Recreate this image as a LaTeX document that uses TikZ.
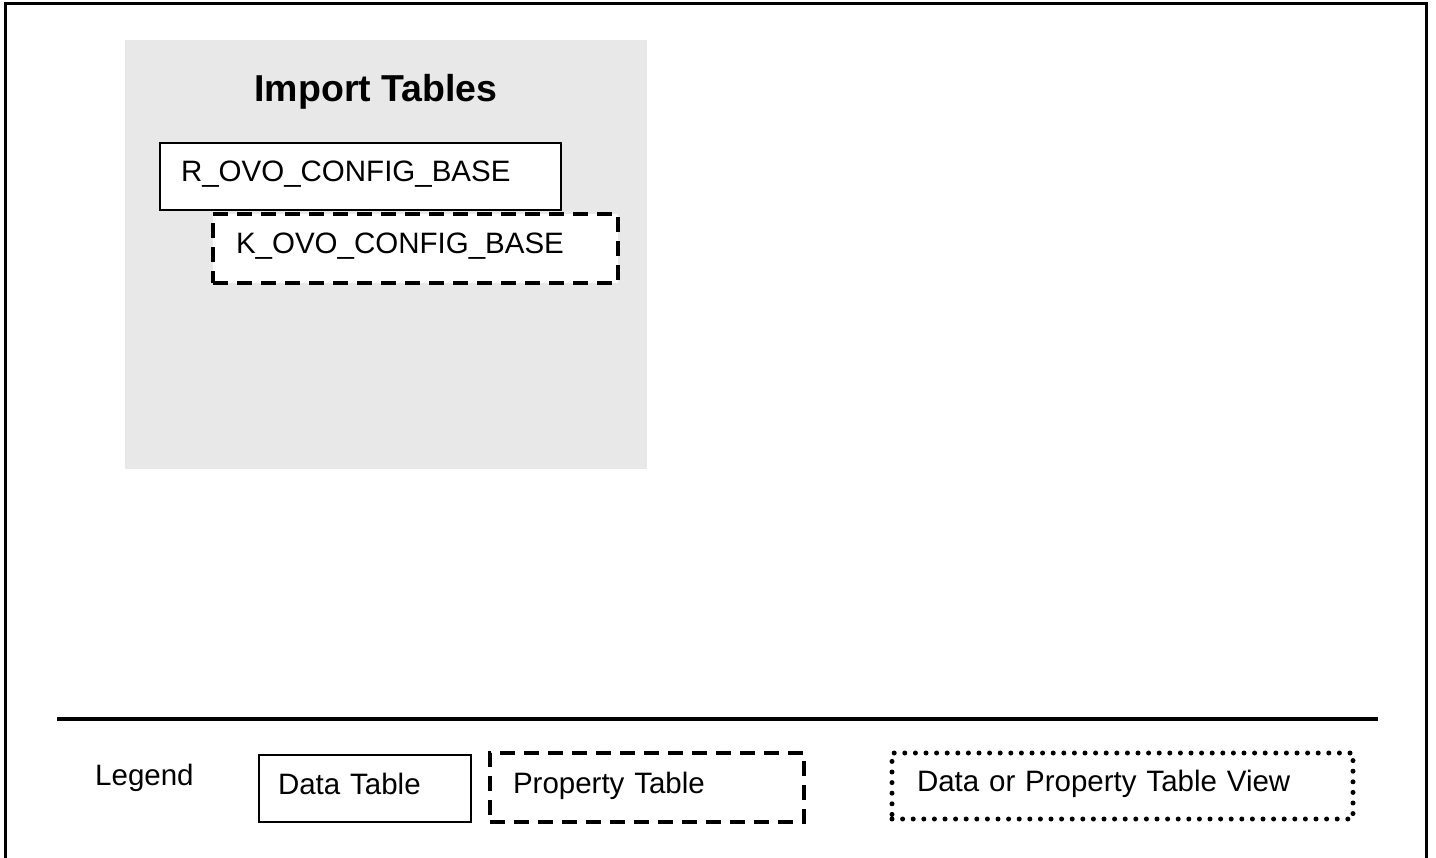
\documentclass[tikz,border=0pt]{standalone}
\usepackage{fontspec}
\setmainfont{Liberation Sans}
\usepackage{xcolor}
\usetikzlibrary{positioning}

\definecolor{importgray}{HTML}{E8E8E8}

\begin{document}
\begin{tikzpicture}[x=1pt, y=-1pt,
  txt/.style={font=\fontsize{29.5}{34}\selectfont},
  tbl/.style={draw, fill=white, txt, align=left, inner ysep=0pt, text height=20pt, text depth=9pt},
  datatbl/.style={tbl, line width=1.6pt},
  proptbl/.style={tbl, line width=4pt, dash pattern=on 15pt off 9pt},
  viewtbl/.style={tbl, line width=5pt, line cap=round, dash pattern=on 0pt off 10.6pt}
]
  \useasboundingbox (0,0) rectangle (1436,858);
  \draw[line width=3pt] (5,870) -- (5,4) -- (1426,4) -- (1426,870);
  \node[fill=importgray, minimum width=522pt, minimum height=429pt, inner sep=0pt] (import) at (386,254.5) {};
  \node[anchor=base, font=\fontsize{37.5}{44}\selectfont\bfseries] (title) at (376,102) {Import Tables};
  \node[datatbl, text width=359pt, inner xsep=21pt, minimum height=67pt] (rbase) at (360.5,176.5) {R\_OVO\_CONFIG\_BASE};
  \node[proptbl, text width=359pt, inner xsep=23pt, minimum height=69pt] (kbase) at (415.5,248.5) {K\_OVO\_CONFIG\_BASE};
  \coordinate (rulel) at (57,719);
  \coordinate (ruler) at (1378,719);
  \draw[line width=4pt] (rulel) -- (ruler);
  \node[txt, anchor=base west, inner sep=0pt] (legend) at (95,785) {Legend};
  \node[datatbl, text width=174pt, inner xsep=19pt, minimum height=67pt] (ldata) at (365,788.5) {Data Table};
  \node[proptbl, text width=268pt, inner xsep=23pt, minimum height=69pt] (lprop) at (647,787.5) {Property Table};
  \node[viewtbl, text width=411pt, inner xsep=25pt, minimum height=66pt] (lview) at (1122.5,786) {Data or Property Table View};
\end{tikzpicture}
\end{document}
